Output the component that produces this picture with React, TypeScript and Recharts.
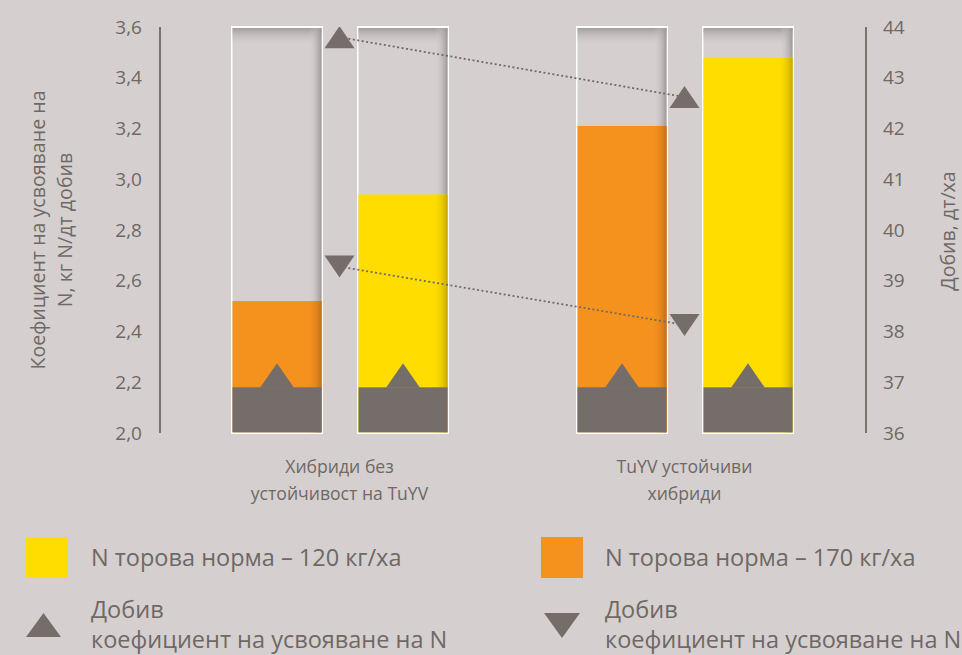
import React from "react";
import { ComposedChart, Bar, Line, XAxis, YAxis } from "recharts";

// categories (two-line labels) and values
const CATEGORIES = [
  ["Хибриди без", "устойчивост на TuYV"],
  ["TuYV устойчиви", "хибриди"],
];
const RATE_170 = [2.52, 3.21]; // orange bars, left axis
const RATE_120 = [2.94, 3.48]; // yellow bars, left axis
const YIELD_UP = [43.8, 42.62]; // ▲ markers, right axis
const YIELD_DOWN = [39.28, 38.13]; // ▼ markers, right axis

const LEFT_DOMAIN = [2, 3.6];
const LEFT_TICKS = [2.0, 2.2, 2.4, 2.6, 2.8, 3.0, 3.2, 3.4, 3.6];
const RIGHT_DOMAIN = [36, 44];
const RIGHT_TICKS = [36, 37, 38, 39, 40, 41, 42, 43, 44];
const BASE_LEVEL = 2.18; // top of the dark base in each bar

const BG = "#d5d0cf";
const TEXT = "#6f6865";
const DARK = "#756d69";
const ORANGE = "#f5921e";
const YELLOW = "#ffdd00";
const FONT = "'Open Sans', sans-serif";

const data = CATEGORIES.map((c, i) => ({
  name: c.join("\n"),
  n170: RATE_170[i],
  n120: RATE_120[i],
  up: YIELD_UP[i],
  down: YIELD_DOWN[i],
}));

// empty glass of each bar: white border + inner shade on top and right
function Frame(props: any) {
  const { x, y, width, height } = props;
  return (
    <g>
      <rect x={x} y={y - 1} width={width} height={height + 2} fill="#ffffff" />
      <rect x={x + 1.5} y={y + 1} width={width - 3} height={height - 1.7} fill={BG} />
      <rect x={x + 1.5} y={y + 1} width={width - 3} height={18} fill="url(#shadeTop)" />
      <rect x={x + width - 14} y={y + 1} width={12.5} height={height - 1.7} fill="url(#shadeRight)" />
    </g>
  );
}

function makeFill(key: string, color: string, edge: string) {
  return (props: any) => {
    const { x, y, width, height, payload } = props;
    const val = payload[key];
    const bottom = y + height - 0.7;
    const ppu = height / (val - LEFT_DOMAIN[0]);
    const baseTop = y + height - (BASE_LEVEL - LEFT_DOMAIN[0]) * ppu;
    const cx = x + width / 2;
    return (
      <g>
        <rect x={x + 1.5} y={y} width={width - 3} height={bottom - y} fill={color} />
        <rect x={x + width - 16} y={y} width={14.5} height={bottom - y} fill={`url(#${edge})`} />
        <rect x={x + 1.5} y={baseTop} width={width - 3} height={bottom - baseTop} fill={DARK} />
        <polygon
          points={`${cx - 17},${baseTop + 0.5} ${cx},${baseTop - 24} ${cx + 17},${baseTop + 0.5}`}
          fill={DARK}
        />
      </g>
    );
  };
}

function UpTri(props: any) {
  const { cx, cy } = props;
  if (cx == null || cy == null) return null;
  return <polygon points={`${cx - 15},${cy + 11} ${cx},${cy - 11} ${cx + 15},${cy + 11}`} fill={DARK} />;
}

function DownTri(props: any) {
  const { cx, cy } = props;
  if (cx == null || cy == null) return null;
  return <polygon points={`${cx - 15},${cy - 11} ${cx},${cy + 11} ${cx + 15},${cy - 11}`} fill={DARK} />;
}

function CatTick(props: any) {
  const { x, y, payload } = props;
  const lines = String(payload.value).split("\n");
  return (
    <text x={x} y={y} textAnchor="middle" fill={TEXT} fontSize={17.6} fontFamily={FONT}>
      {lines.map((l, i) => (
        <tspan key={i} x={x} dy={i === 0 ? 40 : 27}>
          {l}
        </tspan>
      ))}
    </text>
  );
}

const fmt = (v: number) => v.toFixed(1).replace(".", ",");

const legendText: React.CSSProperties = {
  position: "absolute",
  fontSize: 23.5,
  whiteSpace: "nowrap",
};

export default function App() {
  return (
    <div
      style={{
        position: "absolute", left: 0, top: 0, width: 962, height: 655,
        background: BG, overflow: "hidden", fontFamily: FONT, color: TEXT,
      }}
    >
      <ComposedChart
        width={962}
        height={655}
        data={data}
        margin={{ top: 27, right: 0, bottom: 0, left: 0 }}
        barGap={34}
      >
        <defs>
          <linearGradient id="shadeTop" x1="0" y1="0" x2="0" y2="1">
            <stop offset="0" stopColor="#a29d9c" stopOpacity={1} />
            <stop offset="1" stopColor={BG} stopOpacity={0} />
          </linearGradient>
          <linearGradient id="shadeRight" x1="0" y1="0" x2="1" y2="0">
            <stop offset="0" stopColor={BG} stopOpacity={0} />
            <stop offset="1" stopColor="#9c9796" stopOpacity={1} />
          </linearGradient>
          <linearGradient id="edgeOrange" x1="0" y1="0" x2="1" y2="0">
            <stop offset="0" stopColor={ORANGE} stopOpacity={0} />
            <stop offset="1" stopColor="#c26e18" stopOpacity={1} />
          </linearGradient>
          <linearGradient id="edgeYellow" x1="0" y1="0" x2="1" y2="0">
            <stop offset="0" stopColor={YELLOW} stopOpacity={0} />
            <stop offset="1" stopColor="#c6a800" stopOpacity={1} />
          </linearGradient>
        </defs>

        <XAxis
          dataKey="name"
          height={222}
          padding={{ left: 7, right: 9 }}
          axisLine={false}
          tickLine={false}
          tickSize={0}
          tickMargin={0}
          interval={0}
          tick={<CatTick />}
        />
        <YAxis
          yAxisId="left"
          width={160}
          domain={LEFT_DOMAIN}
          ticks={LEFT_TICKS}
          tickFormatter={fmt}
          tickLine={false}
          tickMargin={12}
          axisLine={{ stroke: "#7a7370", strokeWidth: 2 }}
          tick={{ fill: TEXT, fontSize: 19, fontFamily: FONT }}
          allowDataOverflow
        />
        <YAxis
          yAxisId="right"
          orientation="right"
          width={96}
          domain={RIGHT_DOMAIN}
          ticks={RIGHT_TICKS}
          tickLine={false}
          tickMargin={11}
          axisLine={{ stroke: "#7a7370", strokeWidth: 2 }}
          tick={{ fill: TEXT, fontSize: 19, fontFamily: FONT, textAnchor: "start" }}
          allowDataOverflow
        />

        <Bar
          yAxisId="left"
          dataKey="n170"
          barSize={92}
          background={(p: any) => <Frame key={`f170-${p.index}`} {...p} />}
          shape={makeFill("n170", ORANGE, "edgeOrange")}
          isAnimationActive={false}
        />
        <Bar
          yAxisId="left"
          dataKey="n120"
          barSize={92}
          background={(p: any) => <Frame key={`f120-${p.index}`} {...p} />}
          shape={makeFill("n120", YELLOW, "edgeYellow")}
          isAnimationActive={false}
        />

        <Line
          yAxisId="right"
          dataKey="up"
          stroke={TEXT}
          strokeWidth={1.8}
          strokeDasharray="2 2.5"
          dot={<UpTri />}
          activeDot={false}
          isAnimationActive={false}
        />
        <Line
          yAxisId="right"
          dataKey="down"
          stroke={TEXT}
          strokeWidth={1.8}
          strokeDasharray="2 2.5"
          dot={<DownTri />}
          activeDot={false}
          isAnimationActive={false}
        />

        <text
          transform="rotate(-90 37 230)"
          x={37}
          y={230}
          textAnchor="middle"
          dominantBaseline="central"
          fill={TEXT}
          fontSize={19.6}
          fontFamily={FONT}
        >
          Коефициент на усвояване на
        </text>
        <text
          transform="rotate(-90 64 230)"
          x={64}
          y={230}
          textAnchor="middle"
          dominantBaseline="central"
          fill={TEXT}
          fontSize={19.6}
          fontFamily={FONT}
        >
          N, кг N/дт добив
        </text>
        <text
          transform="rotate(-90 947 231)"
          x={947}
          y={231}
          textAnchor="middle"
          dominantBaseline="central"
          fill={TEXT}
          fontSize={19.6}
          fontFamily={FONT}
        >
          Добив, дт/ха
        </text>
      </ComposedChart>

      {/* legend */}
      <div style={{ position: "absolute", left: 26, top: 537, width: 42, height: 41, background: YELLOW }} />
      <div style={{ ...legendText, left: 91, top: 541, lineHeight: "32px" }}>N торова норма – 120 кг/ха</div>
      <div style={{ position: "absolute", left: 541, top: 537, width: 42, height: 41, background: ORANGE }} />
      <div style={{ ...legendText, left: 605, top: 541, lineHeight: "32px" }}>N торова норма – 170 кг/ха</div>

      <svg style={{ position: "absolute", left: 26, top: 613 }} width={36} height={25}>
        <polygon points="0,24 17.5,0 35,24" fill={DARK} />
      </svg>
      <div style={{ ...legendText, left: 91, top: 594, lineHeight: "30px" }}>
        Добив
        <br />
        коефициент на усвояване на N
      </div>
      <svg style={{ position: "absolute", left: 544, top: 613 }} width={36} height={26}>
        <polygon points="0,0 18,25 36,0" fill={DARK} />
      </svg>
      <div style={{ ...legendText, left: 605, top: 594, lineHeight: "30px" }}>
        Добив
        <br />
        коефициент на усвояване на N
      </div>
    </div>
  );
}
